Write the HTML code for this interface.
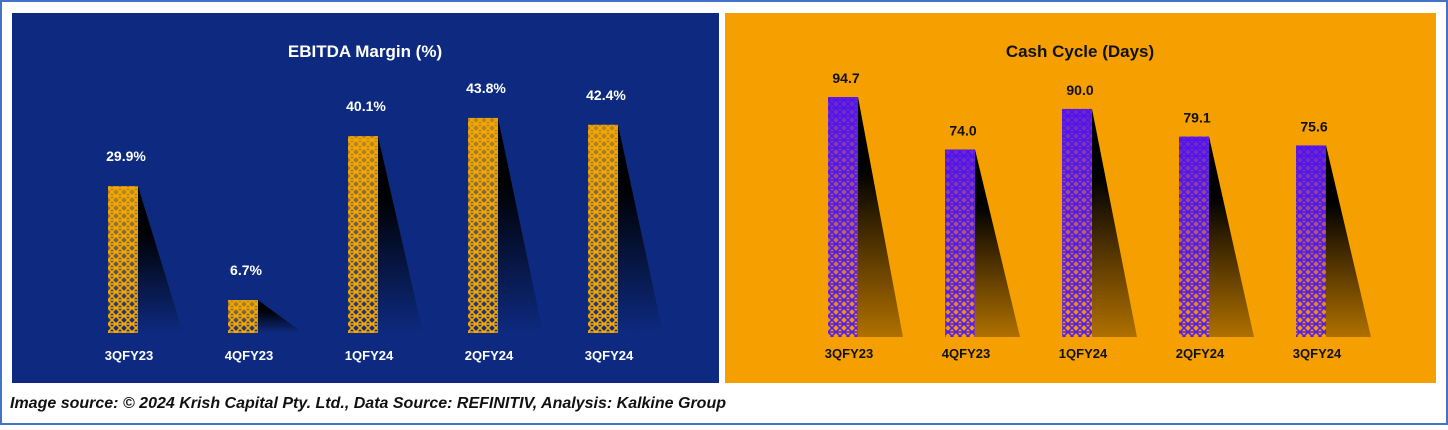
<!DOCTYPE html>
<html><head><meta charset="utf-8"><style>
body{margin:0;background:#fff;width:1448px;height:425px;overflow:hidden;font-family:"Liberation Sans",sans-serif}
</style></head><body>
<svg width="1448" height="425" xmlns="http://www.w3.org/2000/svg">
<defs>
<pattern id="hatchY" width="8" height="8" patternUnits="userSpaceOnUse"><rect width="8" height="8" fill="#0d2a80"/><path d="M0 0L8 8M8 0L0 8M0 4H8" stroke="#f5a800" stroke-width="1.6"/></pattern>
<pattern id="hatchP" width="8" height="8" patternUnits="userSpaceOnUse"><rect width="8" height="8" fill="#f5a000"/><path d="M0 0L8 8M8 0L0 8M0 4H8" stroke="#5a1de8" stroke-width="1.6"/></pattern>
<linearGradient id="fadeY" x1="0" y1="0" x2="0" y2="1"><stop offset="0" stop-color="#f5a800" stop-opacity="0.75"/><stop offset="1" stop-color="#f5a800" stop-opacity="0"/></linearGradient>
<linearGradient id="fadeP" x1="0" y1="0" x2="0" y2="1"><stop offset="0" stop-color="#5010f0" stop-opacity="0.85"/><stop offset="1" stop-color="#5010f0" stop-opacity="0"/></linearGradient>
<linearGradient id="shB" x1="0" y1="0" x2="0" y2="1"><stop offset="0.3" stop-color="#000"/><stop offset="1" stop-color="#0d2a80"/></linearGradient>
<linearGradient id="shO" x1="0" y1="0" x2="0" y2="1"><stop offset="0.3" stop-color="#000"/><stop offset="1" stop-color="#b07000"/></linearGradient>
</defs>
<rect x="1" y="1" width="1446" height="423" fill="#fff" stroke="#4472c4" stroke-width="2"/>
<rect x="12" y="13" width="707" height="370" fill="#0d2a80"/>
<rect x="725" y="13" width="711" height="370" fill="#f5a000"/>
<text x="365" y="57" text-anchor="middle" fill="#fff" font-size="17" font-weight="bold">EBITDA Margin (%)</text>
<text x="1080" y="57" text-anchor="middle" fill="#111" font-size="17" font-weight="bold">Cash Cycle (Days)</text>
<g id="left"></g><g id="right"></g>
<text x="10" y="408" fill="#111" font-size="16" font-style="italic" font-weight="bold">Image source: © 2024 Krish Capital Pty. Ltd., Data Source: REFINITIV, Analysis: Kalkine Group</text>
</svg>
<script>
const categories=["3QFY23","4QFY23","1QFY24","2QFY24","3QFY24"];
const ebitdaValues=[29.9,6.7,40.1,43.8,42.4];
const ebitdaLabels=["29.9%","6.7%","40.1%","43.8%","42.4%"];
const cashValues=[94.7,74.0,90.0,79.1,75.6];
const cashLabels=["94.7","74.0","90.0","79.1","75.6"];
const NS="http://www.w3.org/2000/svg";
function mk(t,a,p){const e=document.createElementNS(NS,t);for(const k in a)e.setAttribute(k,a[k]);p.appendChild(e);return e;}
function draw(g,vals,labels,x0,step,base,scale,hatch,fade,sh,txt,prefix,lblOff,catOff){
  vals.forEach((v,i)=>{
    const x=x0+i*step,h=v*scale,y=base-h,w=30;
    const s=mk('polygon',{points:`${x+w},${y} ${x+w},${base} ${x+w+45},${base}`,fill:`url(#${sh})`},g);
    
    
    const b=mk('rect',{x:x,y:y,width:w,height:h,fill:`url(#${hatch})`},g);
    
    
    const f=mk('rect',{x:x,y:y,width:w,height:h,fill:`url(#${fade})`},g);
    
    
    const t=mk('text',{x:x+w/2+3,y:y-lblOff,'text-anchor':'middle',fill:txt,'font-size':'14','font-weight':'bold'},g);
    t.textContent=labels[i];
    
    
    const c=mk('text',{x:x+w/2+6,y:base+catOff,'text-anchor':'middle',fill:txt,'font-size':'13','font-weight':'bold'},g);
    c.textContent=categories[i];
    
    
  });
}
draw(document.getElementById('left'),ebitdaValues,ebitdaLabels,108,120,333,4.91,'hatchY','fadeY','shB','#fff','ebitda',25,27);
draw(document.getElementById('right'),cashValues,cashLabels,828,117,337,2.534,'hatchP','fadeP','shO','#111','cash',14,21);
</script>
</body></html>
